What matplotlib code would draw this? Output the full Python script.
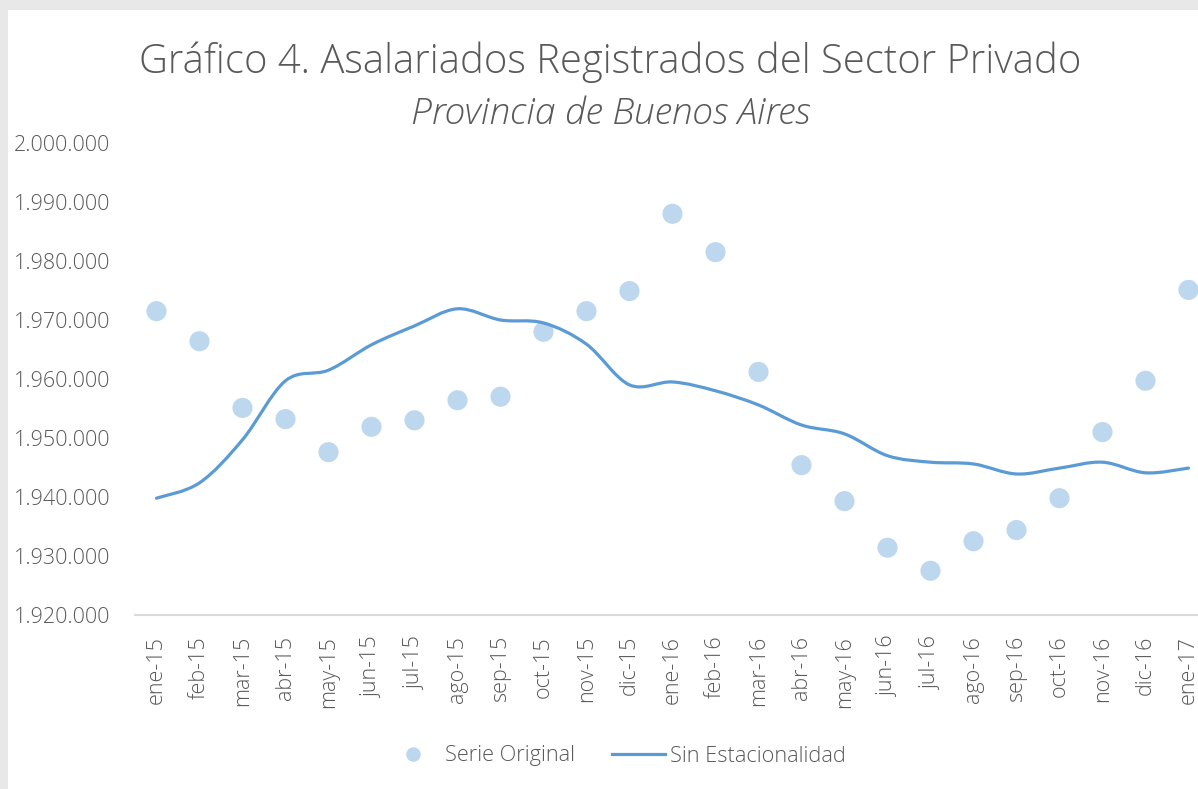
import matplotlib
matplotlib.use("Agg")
import matplotlib.pyplot as plt
from matplotlib.path import Path
from matplotlib.patches import PathPatch, Rectangle
from matplotlib.lines import Line2D
from matplotlib.ticker import FuncFormatter
import numpy as np

plt.rcParams['font.family'] = ['Open Sans', 'DejaVu Sans']

meses = ['ene-15', 'feb-15', 'mar-15', 'abr-15', 'may-15', 'jun-15', 'jul-15', 'ago-15',
         'sep-15', 'oct-15', 'nov-15', 'dic-15', 'ene-16', 'feb-16', 'mar-16', 'abr-16',
         'may-16', 'jun-16', 'jul-16', 'ago-16', 'sep-16', 'oct-16', 'nov-16', 'dic-16', 'ene-17']

serie_original = [1971500, 1966400, 1955100, 1953200, 1947600, 1951900, 1953000, 1956400,
                  1957000, 1968000, 1971500, 1974900, 1988000, 1981500, 1961200, 1945400,
                  1939300, 1931400, 1927500, 1932500, 1934400, 1939800, 1951000, 1959700, 1975100]

sin_estacionalidad = [1939800, 1942400, 1949700, 1959700, 1961500, 1965800, 1969000, 1971900,
                      1970000, 1969500, 1965900, 1959000, 1959500, 1958000, 1955600, 1952200,
                      1950700, 1947000, 1945900, 1945600, 1943900, 1944900, 1945900, 1944100, 1944900]

texto = '#595959'
azul = '#5b9bd5'
celeste = '#bdd7ee'


def smooth_path(x, y):
    # Catmull-Rom curve written as cubic Bezier segments (Excel "smoothed line")
    pts = np.column_stack([np.asarray(x, float), np.asarray(y, float)])
    verts = [pts[0]]
    codes = [Path.MOVETO]
    n = len(pts)
    for i in range(n - 1):
        p0 = pts[i - 1] if i > 0 else pts[i]
        p1 = pts[i]
        p2 = pts[i + 1]
        p3 = pts[i + 2] if i + 2 < n else pts[i + 1]
        c1 = p1 + (p2 - p0) / 6.0
        c2 = p2 - (p3 - p1) / 6.0
        verts += [c1, c2, p2]
        codes += [Path.CURVE4] * 3
    return Path(verts, codes)


fig = plt.figure(figsize=(11.98, 7.89), dpi=100)
fig.patch.set_facecolor('#e8e8e8')
fig.patches.append(Rectangle((8 / 1198, 0), 1, 1 - 10 / 789, transform=fig.transFigure,
                             facecolor='white', edgecolor='none', zorder=-5))

ax = fig.add_axes([135 / 1198, 1 - 615 / 789, 1075 / 1198, 472 / 789])
ax.set_zorder(5)
ax.set_facecolor('none')

x = np.arange(len(meses))
ax.scatter(x, serie_original, s=210, color=celeste, edgecolors='none', zorder=2, clip_on=False)
ax.add_patch(PathPatch(smooth_path(x, sin_estacionalidad), facecolor='none',
                       edgecolor=azul, lw=2.3, zorder=3, capstyle='round'))

ax.set_xlim(-0.5, len(meses) - 0.5)
ax.set_ylim(1920000, 2000000)
ax.set_yticks(np.arange(1920000, 2000001, 10000))
ax.yaxis.set_major_formatter(FuncFormatter(lambda v, p: f'{int(v):,}'.replace(',', '.')))
ax.set_xticks(x)
ax.set_xticklabels(meses, rotation=90)

for s in ['top', 'right', 'left']:
    ax.spines[s].set_visible(False)
ax.spines['bottom'].set_color('#d9d9d9')
ax.spines['bottom'].set_linewidth(1.5)
ax.tick_params(axis='both', length=0, colors=texto, labelsize=15.5)
for lab in ax.get_xticklabels() + ax.get_yticklabels():
    lab.set_fontweight('light')
ax.tick_params(axis='y', pad=18)
ax.tick_params(axis='x', pad=15)

fig.text(610 / 1198, 1 - 62 / 789, 'Gráfico 4. Asalariados Registrados del Sector Privado',
         ha='center', va='center', fontsize=28.8, color=texto, fontweight='light')
fig.text(611 / 1198, 1 - 114 / 789, 'Provincia de Buenos Aires', ha='center', va='center',
         fontsize=26.8, style='italic', color=texto, fontweight='light')

handles = [Line2D([], [], marker='o', ls='none', markersize=10.5, markerfacecolor=celeste,
                  markeredgecolor='none'),
           Line2D([], [], color=azul, lw=2.3)]
leg = fig.legend(handles, ['Serie Original', 'Sin Estacionalidad'], loc='center',
                 bbox_to_anchor=(616 / 1198, 1 - 756 / 789), ncol=2, frameon=False,
                 fontsize=15.7, labelcolor=texto, columnspacing=1.7, handlelength=2.45,
                 handletextpad=0.22)
for t in leg.get_texts():
    t.set_fontweight('light')

fig.savefig('out.png', dpi=100, facecolor=fig.get_facecolor())
